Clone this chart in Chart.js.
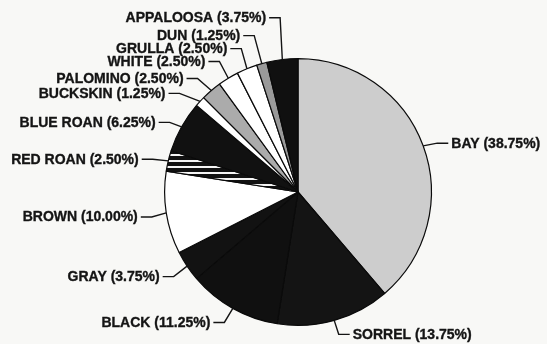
<!DOCTYPE html>
<html>
<head>
<meta charset="utf-8">
<script src="https://cdn.jsdelivr.net/npm/chart.js@4"></script>
<style>
  html, body { margin: 0; padding: 0; background: #f8f8f6; }
  #wrap { width: 547px; height: 344px; position: relative; }
</style>
</head>
<body>
<div id="wrap"><canvas id="c" width="547" height="344"></canvas></div>
<script>
// Data
const categories = ['BAY', 'SORREL', 'BLACK', 'GRAY', 'BROWN', 'RED ROAN', 'BLUE ROAN',
                    'BUCKSKIN', 'PALOMINO', 'WHITE', 'GRULLA', 'DUN', 'APPALOOSA'];
const percentages = [38.75, 13.75, 11.25, 3.75, 10.00, 2.50, 6.25, 1.25, 2.50, 2.50, 2.50, 1.25, 3.75];

// Styles
function stripePattern() {
  const p = document.createElement('canvas');
  p.width = 6; p.height = 6;
  const g = p.getContext('2d');
  g.fillStyle = '#111'; g.fillRect(0, 0, 6, 6);
  g.fillStyle = '#f4f4f4'; g.fillRect(0, 4, 6, 2);
  return document.getElementById('c').getContext('2d').createPattern(p, 'repeat');
}
const sliceColors = ['#cdcdcd', '#141414', '#101010', '#121212', '#ffffff', stripePattern(), '#111111',
                     '#ffffff', '#ababab', '#ffffff', '#ffffff', '#9a9a9a', '#101010'];

// Label layout (offset from pie centre, in units of the pie radius)
const labelOffsets = [[1.149, -0.366], [0.410, 1.067], [-0.657, 0.978], [-1.037, 0.634],
  [-1.201, 0.187], [-1.194, -0.246], [-1.067, -0.522], [-0.993, -0.739], [-0.858, -0.851],
  [-0.694, -0.978], [-0.530, -1.075], [-0.433, -1.172], [-0.239, -1.306]];

const leaderLabels = {
  id: 'leaderLabels',
  afterDatasetsDraw(chart, args, opts) {
    const meta = chart.getDatasetMeta(0);
    const ctx = chart.ctx;
    ctx.save();
    ctx.font = opts.font;
    ctx.fillStyle = '#141414';
    ctx.strokeStyle = '#141414';
    ctx.textBaseline = 'middle';
    meta.data.forEach((arc, i) => {
      const p = arc.getProps(['x', 'y', 'startAngle', 'endAngle', 'outerRadius'], true);
      const mid = (p.startAngle + p.endAngle) / 2;
      const ax = p.x + Math.cos(mid) * p.outerRadius;
      const ay = p.y + Math.sin(mid) * p.outerRadius;
      const off = labelOffsets[i];
      const tx = p.x + off[0] * p.outerRadius;
      const ty = p.y + off[1] * p.outerRadius;
      const right = off[0] > 0;
      const dir = right ? -1 : 1;
      ctx.lineWidth = 1.4;
      ctx.beginPath();
      ctx.moveTo(tx + dir * 3, ty);
      ctx.lineTo(tx + dir * 14, ty);
      ctx.lineTo(ax, ay);
      ctx.stroke();
      ctx.textAlign = right ? 'left' : 'right';
      const text = categories[i] + ' (' + percentages[i].toFixed(2) + '%)';
      ctx.lineWidth = 0.35;
      ctx.fillText(text, tx, ty + 0.5);
      ctx.strokeText(text, tx, ty + 0.5);
    });
    ctx.restore();
  }
};

new Chart(document.getElementById('c'), {
  type: 'pie',
  data: {
    labels: categories,
    datasets: [{
      data: percentages,
      backgroundColor: sliceColors,
      borderColor: '#0a0a0a',
      borderWidth: 1.2
    }]
  },
  options: {
    responsive: false,
    animation: false,
    layout: { padding: { left: 164, right: 115, top: 57, bottom: 17 } },
    plugins: {
      legend: { display: false },
      tooltip: { enabled: false },
      leaderLabels: { font: 'bold 14px "Liberation Sans", Arial, sans-serif' }
    }
  },
  plugins: [leaderLabels]
});
</script>
</body>
</html>
